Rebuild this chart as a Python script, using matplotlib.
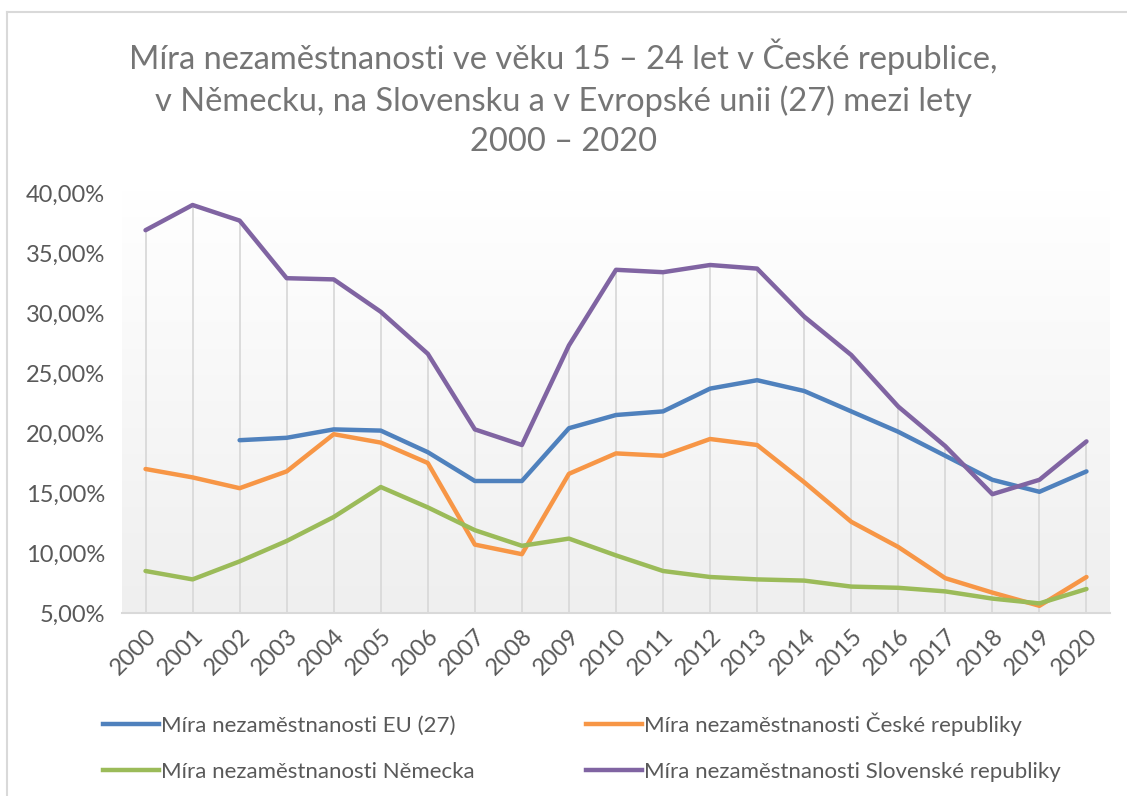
import numpy as np
import matplotlib.pyplot as plt
from matplotlib.colors import LinearSegmentedColormap
from matplotlib.lines import Line2D

plt.rcParams['font.family'] = ['Lato', 'DejaVu Sans']

years = list(range(2000, 2021))
eu27 = [np.nan, np.nan, 19.4, 19.6, 20.3, 20.2, 18.4, 16.0, 16.0, 20.4, 21.5,
        21.8, 23.7, 24.4, 23.5, 21.8, 20.1, 18.1, 16.1, 15.1, 16.8]
cz = [17.0, 16.3, 15.4, 16.8, 19.9, 19.2, 17.5, 10.7, 9.9, 16.6, 18.3,
      18.1, 19.5, 19.0, 15.9, 12.6, 10.5, 7.9, 6.7, 5.6, 8.0]
de = [8.5, 7.8, 9.3, 11.0, 13.0, 15.5, 13.8, 11.9, 10.6, 11.2, 9.8,
      8.5, 8.0, 7.8, 7.7, 7.2, 7.1, 6.8, 6.2, 5.8, 7.0]
sk = [36.9, 39.0, 37.7, 32.9, 32.8, 30.1, 26.6, 20.3, 19.0, 27.3, 33.6,
      33.4, 34.0, 33.7, 29.7, 26.5, 22.2, 18.9, 14.9, 16.1, 19.3]

labels = ['Míra nezaměstnanosti EU (27)', 'Míra nezaměstnanosti České republiky',
          'Míra nezaměstnanosti Německa', 'Míra nezaměstnanosti Slovenské republiky']
colors = ['#4F81BD', '#F79646', '#9BBB59', '#8064A2']
yticks = [5, 10, 15, 20, 25, 30, 35, 40]
title = ('Míra nezaměstnanosti ve věku 15 – 24 let v České republice,\n'
         'v Německu, na Slovensku a v Evropské unii (27) mezi lety\n2000 – 2020')

fig = plt.figure(figsize=(11.27, 7.96), dpi=100)
ax = fig.add_axes([122/1127, 1-613/796, 988/1127, 423/796])

x = np.arange(len(years))
ymin, ymax = 5, 40.25

# gradient background
cmap = LinearSegmentedColormap.from_list('bg', ['#ffffff', '#efefef'])
grad = np.linspace(0, 1, 256).reshape(-1, 1)
ax.imshow(grad, aspect='auto', cmap=cmap, extent=[-0.5, len(years)-0.5, ymin, ymax],
          origin='upper', zorder=0)

# drop lines up to the highest series
tops = np.nanmax(np.array([eu27, cz, de, sk]), axis=0)
ax.vlines(x, ymin, tops, color='#d9d9d9', lw=1.3, zorder=1)

series = [eu27, cz, de, sk]
for vals, c in zip(series, colors):
    ax.plot(x, vals, color=c, lw=3.2, solid_capstyle='round', zorder=3)

ax.set_xlim(-0.5, len(years)-0.5)
ax.set_ylim(ymin, ymax)
ax.set_yticks(yticks)
ax.set_yticklabels([f'{v:.2f}'.replace('.', ',') + '%' for v in yticks])
ax.set_xticks(x)
ax.set_xticklabels([str(y) for y in years], rotation=45, ha='right', rotation_mode='anchor')
ax.tick_params(length=0, labelsize=17, colors='#595959')
ax.tick_params(axis='y', pad=12)
ax.tick_params(axis='x', pad=9)
for s in ['top', 'right', 'left']:
    ax.spines[s].set_visible(False)
ax.spines['bottom'].set_color('#d9d9d9')
ax.spines['bottom'].set_linewidth(1.5)

fig.text(0.5, 1-98/796, title, ha='center', va='center', fontsize=23.5,
         color='#757575', linespacing=1.42)

# legend
order = [0, 2, 1, 3]
handles = [Line2D([], [], color=colors[i], lw=3.2) for i in order]
fig.legend(handles, [labels[i] for i in order], ncol=2, loc='upper left',
           bbox_to_anchor=(83/1127, 1-692/796), frameon=False, fontsize=16,
           labelcolor='#595959', handlelength=2.5, handletextpad=0.12,
           columnspacing=5.0, labelspacing=1.18)

# chart frame
fig.add_artist(Line2D([7/1127, 7/1127], [0, 1-12/796], color='#d9d9d9', lw=1.5))
fig.add_artist(Line2D([7/1127, 1], [1-12/796, 1-12/796], color='#d9d9d9', lw=1.5))

fig.savefig('out.png', dpi=100)
